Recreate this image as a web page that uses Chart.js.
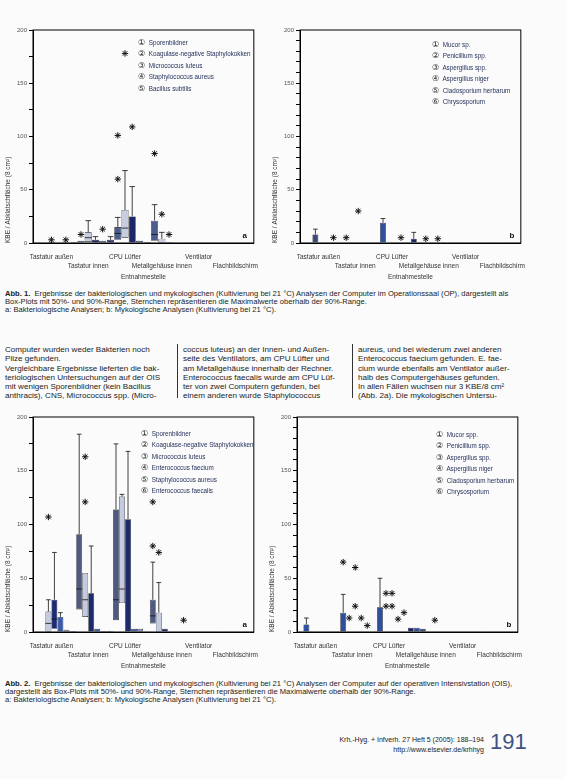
<!DOCTYPE html>
<html lang="de">
<head>
<meta charset="utf-8">
<title>Abb. 1 / Abb. 2</title>
<script src="https://cdn.jsdelivr.net/npm/chart.js@4.4.1/dist/chart.umd.min.js"></script>
<style>
body { margin:0; width:566px; height:779px; background:#fbfbfb; font-family:"Liberation Sans", Arial, sans-serif; color:#222; position:relative; overflow:hidden; }
canvas { position:absolute; }
.legende { position:absolute; font-size:6.3px; line-height:11.4px; color:#1e2a55; white-space:nowrap; }
.legende .nr { display:inline-block; width:9px; font-family:"DejaVu Sans", sans-serif; font-size:8px; color:#222; }
.caption { position:absolute; left:5px; width:556px; font-size:7.6px; line-height:8px; white-space:nowrap; color:#222; }
.spalte { position:absolute; top:345px; width:168px; font-size:8.1px; line-height:9.3px; white-space:nowrap; color:#222; }
.trenner { position:absolute; top:344px; height:54px; border-left:0.8px solid #333; }
.fuss { position:absolute; right:82px; top:735px; font-size:7px; line-height:10px; text-align:right; color:#222; }
.seite { position:absolute; left:490px; top:729px; font-size:22px; color:#3f5283; font-family:"Liberation Sans", sans-serif; }
</style>
</head>
<body>

<canvas id="abb1a" width="256" height="257" style="left:3px;top:24px"></canvas>
<canvas id="abb1b" width="256" height="257" style="left:270px;top:24px"></canvas>
<canvas id="abb2a" width="256" height="259" style="left:3px;top:411px"></canvas>
<canvas id="abb2b" width="256" height="259" style="left:267px;top:411px"></canvas>

<div class="legende" id="leg1a" style="left:138px;top:37px"></div>
<div class="legende" id="leg1b" style="left:432px;top:39px"></div>
<div class="legende" id="leg2a" style="left:141px;top:428px"></div>
<div class="legende" id="leg2b" style="left:436px;top:429px"></div>

<div class="caption" style="top:290px"><b>Abb. 1.</b>&nbsp; Ergebnisse der bakteriologischen und mykologischen (Kultivierung bei 21 °C) Analysen der Computer im Operationssaal (OP), dargestellt als<br>Box-Plots mit 50%- und 90%-Range, Sternchen repräsentieren die Maximalwerte oberhalb der 90%-Range.<br>a: Bakteriologische Analysen; b: Mykologische Analysen (Kultivierung bei 21 °C).</div>

<div class="spalte" style="left:5px">Computer wurden weder Bakterien noch<br>Pilze gefunden.<br>Vergleichbare Ergebnisse lieferten die bak-<br>teriologischen Untersuchungen auf der OIS<br>mit wenigen Sporenbildner (kein Bacillus<br>anthracis), CNS, Micrococcus spp. (Micro-</div>
<div class="trenner" style="left:177px"></div>
<div class="spalte" style="left:183px">coccus luteus) an der Innen- und Außen-<br>seite des Ventilators, am CPU Lüfter und<br>am Metallgehäuse innerhalb der Rechner.<br>Enterococcus faecalis wurde am CPU Lüf-<br>ter von zwei Computern gefunden, bei<br>einem anderen wurde Staphylococcus</div>
<div class="trenner" style="left:352px"></div>
<div class="spalte" style="left:358px">aureus, und bei wiederum zwei anderen<br>Enterococcus faecium gefunden. E. fae-<br>cium wurde ebenfalls am Ventilator außer-<br>halb des Computergehäuses gefunden.<br>In allen Fällen wuchsen nur 3 KBE/8 cm²<br>(Abb. 2a). Die mykologischen Untersu-</div>

<div class="caption" style="top:680px"><b>Abb. 2.</b>&nbsp; Ergebnisse der bakteriologischen und mykologischen (Kultivierung bei 21 °C) Analysen der Computer auf der operativen Intensivstation (OIS),<br>dargestellt als Box-Plots mit 50%- und 90%-Range, Sternchen repräsentieren die Maximalwerte oberhalb der 90%-Range.<br>a: Bakteriologische Analysen; b: Mykologische Analysen (Kultivierung bei 21 °C).</div>

<div class="fuss">Krh.-Hyg. + Infverh. 27 Heft 5 (2005): 188–194<br>http://www.elsevier.de/krhhyg</div>
<div class="seite">191</div>

<script>
var orte = ['Tastatur außen', 'Tastatur innen', 'CPU Lüfter', 'Metallgehäuse innen', 'Ventilator', 'Flachbildschirm'];
var yMax = 200;
var yBeschriftung = [0, 50, 100, 150, 200];
var nummern = ['①', '②', '③', '④', '⑤', '⑥'];
var _ = null;

//////////// Abb. 1a Bakterien OP ////////////
var arten1a = ['Sporenbildner', 'Koagulase-negative Staphylokokken', 'Micrococcus luteus', 'Staphylococcus aureus', 'Bacillus subtilis'];
var farben1a = ['#2b3a6e', '#4b5d8f', '#c6cde0', '#1b2766', '#3d5db0'];
var unten1a = [
    [0, 0, 0, 0, 0, 0],
    [0, 0, 3, 2, 0, 0],
    [0, 1, 5, 0, 0, 0],
    [0, 0, 0, 0, 0, 0],
    [0, 0, 0, 0, 0, 0]
];
var oben1a = [
    [0.8, 1, 3, 1, 0.8, 0.8],
    [0.8, 2, 15, 21, 0.8, 0.8],
    [1, 10, 31, 4, 0.8, 0.8],
    [0.8, 3, 25, 1, 0.8, 0.8],
    [0.8, 2, 2, 0.8, 0.8, 0.8]
];
var median1a = [
    [_, _, _, _, _, _],
    [_, _, 9, 8, _, _],
    [_, 5, 14, _, _, _],
    [_, _, _, _, _, _],
    [_, _, _, _, _, _]
];
var p90_1a = [
    [_, _, 6, _, _, _],
    [_, _, 24, 36, _, _],
    [_, 21, 68, 10, _, _],
    [_, 6, 53, _, _, _],
    [_, _, _, _, _, _]
];
var max1a = [
    [_, _, _, _, _, _],
    [_, [8], [101, 60], [84], _, _],
    [[3], _, [178], [27], _, _],
    [_, _, [109], [8], _, _],
    [[3], [13], _, _, _, _]
];

//////////// Abb. 1b Pilze OP ////////////
var arten1b = ['Mucor sp.', 'Penicillium spp.', 'Aspergillus spp.', 'Aspergillus niger', 'Cladosporium herbarum', 'Chrysosporium'];
var farben1b = ['#1b2766', '#2f4f9f', '#3b4a78', '#6f82b8', '#9aa7cc', '#26336b'];
var unten1b = [
    [0, 0, 0, 0, 0, 0],
    [0, 0, 0, 0, 0, 0],
    [0, 0, 0, 0, 0, 0],
    [0, 0, 0, 0, 0, 0],
    [0, 0, 0, 0, 0, 0],
    [0, 0, 0, 0, 0, 0]
];
var oben1b = [
    [0.8, 0.8, 0.8, 4, 0.8, 0.8],
    [0.8, 0.8, 19, 0.8, 0.8, 0.8],
    [8, 0.8, 0.8, 0.8, 0.8, 0.8],
    [0.8, 0.8, 0.8, 0.8, 0.8, 0.8],
    [0.8, 0.8, 0.8, 0.8, 0.8, 0.8],
    [0.8, 0.8, 0.8, 0.8, 0.8, 0.8]
];
var median1b = [
    [_, _, _, _, _, _], [_, _, _, _, _, _], [_, _, _, _, _, _],
    [_, _, _, _, _, _], [_, _, _, _, _, _], [_, _, _, _, _, _]
];
var p90_1b = [
    [_, _, _, 10, _, _],
    [_, _, 23, _, _, _],
    [13, _, _, _, _, _],
    [_, _, _, _, _, _],
    [_, _, _, _, _, _],
    [_, _, _, _, _, _]
];
var max1b = [
    [_, _, _, _, _, _],
    [_, [5], _, _, _, _],
    [_, _, _, [4], _, _],
    [_, [30], _, _, _, _],
    [_, _, [5], [4], _, _],
    [[5], _, _, _, _, _]
];

//////////// Abb. 2a Bakterien OIS ////////////
var arten2a = ['Sporenbildner', 'Koagulase-negative Staphylokokken', 'Micrococcus luteus', 'Enterococcus faecium', 'Staphylococcus aureus', 'Enterococcus faecalis'];
var farben2a = ['#1b2766', '#4e5a82', '#c4cbe0', '#1e2a70', '#3a5aa8', '#7f91c2'];
var unten2a = [
    [0, 0, 0, 0, 0, 0],
    [0, 21, 11, 8, 0, 0],
    [0, 14, 27, 0, 0, 0],
    [3, 0, 0, 0, 0, 0],
    [0, 0, 0, 0, 0, 0],
    [0, 0, 0, 0, 0, 0]
];
var oben2a = [
    [0.8, 1, 1, 0.8, 0.8, 0.8],
    [0.8, 91, 114, 30, 0.8, 0.8],
    [19, 55, 126, 18, 0.8, 0.8],
    [30, 36, 105, 3, 0.8, 0.8],
    [14, 3, 3, 0.8, 0.8, 0.8],
    [2, 1, 3, 0.8, 0.8, 0.8]
];
var median2a = [
    [_, _, _, _, _, _],
    [_, 40, 30, 15, _, _],
    [8, 30, 40, _, _, _],
    [12, _, _, _, _, _],
    [_, _, _, _, _, _],
    [_, _, _, _, _, _]
];
var p90_2a = [
    [_, _, _, _, _, _],
    [_, 184, 175, 65, _, _],
    [30, _, 128, 46, _, _],
    [74, 80, 168, _, _, _],
    [18, _, _, _, _, _],
    [_, _, _, _, _, _]
];
var max2a = [
    [_, _, _, _, [11], _],
    [_, _, _, [80, 121], _, _],
    [[107], [163, 121], _, [74], _, _],
    [_, _, _, _, _, _],
    [_, _, _, _, _, _],
    [_, _, _, _, _, _]
];

//////////// Abb. 2b Pilze OIS ////////////
var arten2b = ['Mucor spp.', 'Penicillium spp.', 'Aspergillus spp.', 'Aspergillus niger', 'Cladosporium herbarum', 'Chrysosporium'];
var farben2b = ['#1b2766', '#2f4f9f', '#3b4a78', '#6f82b8', '#9aa7cc', '#26336b'];
var unten2b = [
    [0, 0, 0, 0, 0, 0],
    [0, 0, 0, 0, 0, 0],
    [0, 0, 0, 0, 0, 0],
    [0, 0, 0, 0, 0, 0],
    [0, 0, 0, 0, 0, 0],
    [0, 0, 0, 0, 0, 0]
];
var oben2b = [
    [0.8, 0.8, 0.8, 4, 0.8, 0.8],
    [7, 18, 23, 4, 0.8, 0.8],
    [0.8, 0.8, 0.8, 3, 0.8, 0.8],
    [0.8, 0.8, 0.8, 0.8, 0.8, 0.8],
    [0.8, 0.8, 0.8, 0.8, 0.8, 0.8],
    [0.8, 0.8, 0.8, 0.8, 0.8, 0.8]
];
var median2b = [
    [_, _, _, _, _, _], [_, _, _, _, _, _], [_, _, _, _, _, _],
    [_, _, _, _, _, _], [_, _, _, _, _, _], [_, _, _, _, _, _]
];
var p90_2b = [
    [_, _, _, _, _, _],
    [13, 35, 50, _, _, _],
    [_, _, _, _, _, _],
    [_, _, _, _, _, _],
    [_, _, _, _, _, _],
    [_, _, _, _, _, _]
];
var max2b = [
    [_, _, _, _, _, _],
    [_, [65], _, _, _, _],
    [_, [13], [36, 24], _, _, _],
    [_, [60, 24], [36, 24], _, _, _],
    [_, [13], [12], [11], _, _],
    [_, [6], [18], _, _, _]
];

// asterisk for max values
function stern(ctx, x, y, r) {
    ctx.beginPath();
    for (var k = 0; k < 4; k++) {
        var a = k * Math.PI / 4;
        ctx.moveTo(x - r * Math.cos(a), y - r * Math.sin(a));
        ctx.lineTo(x + r * Math.cos(a), y + r * Math.sin(a));
    }
    ctx.stroke();
}

// whiskers, medians, maxima, frame, letter
var boxPlugin = {
    id: 'boxplot',
    afterDatasetsDraw: function (chart, args, opts) {
        var ctx = chart.ctx;
        var ys = chart.scales.y;
        ctx.save();
        ctx.strokeStyle = '#111';
        ctx.lineWidth = 0.8;
        chart.data.datasets.forEach(function (ds, d) {
            var meta = chart.getDatasetMeta(d);
            meta.data.forEach(function (bar, i) {
                var x = bar.x, w = bar.width;
                var top = ys.getPixelForValue(opts.oben[d][i]);
                var p = opts.p90[d][i];
                if (p != null) {
                    var py = ys.getPixelForValue(p);
                    ctx.lineWidth = 0.8;
                    ctx.beginPath();
                    ctx.moveTo(x, top);
                    ctx.lineTo(x, py);
                    ctx.moveTo(x - w * 0.4, py);
                    ctx.lineTo(x + w * 0.4, py);
                    ctx.stroke();
                }
                var m = opts.median[d][i];
                if (m != null) {
                    var my = ys.getPixelForValue(m);
                    ctx.lineWidth = 0.8;
                    ctx.beginPath();
                    ctx.moveTo(x - w / 2, my);
                    ctx.lineTo(x + w / 2, my);
                    ctx.stroke();
                }
                var mx = opts.maxima[d][i];
                if (mx) {
                    ctx.lineWidth = 1;
                    mx.forEach(function (v) {
                        stern(ctx, x, ys.getPixelForValue(v), 3.2);
                    });
                }
            });
        });
        var a = chart.chartArea;
        ctx.lineWidth = 1;
        ctx.strokeStyle = '#000';
        ctx.strokeRect(a.left, a.top, a.right - a.left, a.bottom - a.top);
        ctx.fillStyle = '#111';
        ctx.font = 'bold 8px "Liberation Sans"';
        ctx.textAlign = 'center';
        ctx.fillText(opts.buchstabe, a.right - 9, a.bottom - 5);
        ctx.restore();
    }
};

function legende(id, arten) {
    var html = '';
    for (var i = 0; i < arten.length; i++) {
        html += '<div><span class="nr">' + nummern[i] + '</span> ' + arten[i] + '</div>';
    }
    document.getElementById(id).innerHTML = html;
}

function boxChart(id, arten, farben, unten, oben, median, p90, maxima, buchstabe, schritt) {
    var datasets = [];
    for (var s = 0; s < arten.length; s++) {
        var werte = [];
        for (var i = 0; i < orte.length; i++) {
            werte.push([unten[s][i], oben[s][i]]);
        }
        datasets.push({
            label: arten[s],
            data: werte,
            backgroundColor: farben[s],
            borderColor: '#111',
            borderWidth: 0.6,
            borderSkipped: false,
            categoryPercentage: 0.98,
            barPercentage: 0.98
        });
    }
    return new Chart(document.getElementById(id), {
        type: 'bar',
        data: { labels: orte, datasets: datasets },
        options: {
            responsive: false,
            animation: false,
            devicePixelRatio: 1,
            layout: { padding: { top: 6, right: 0, left: 0, bottom: 0 } },
            plugins: {
                legend: { display: false },
                tooltip: { enabled: false },
                boxplot: { oben: oben, median: median, p90: p90, maxima: maxima, buchstabe: buchstabe }
            },
            scales: {
                x: {
                    grid: { display: false },
                    border: { color: '#000', width: 1 },
                    ticks: {
                        autoSkip: false, maxRotation: 0, minRotation: 0, padding: 1,
                        color: '#333', font: { size: 6.5, family: 'Liberation Sans', lineHeight: 1.45 },
                        callback: function (v, i) { return i % 2 == 0 ? [orte[i], ''] : ['', orte[i]]; }
                    },
                    title: { display: true, text: 'Entnahmestelle', color: '#333', padding: { top: 1, bottom: 0 },
                        font: { size: 6.5, family: 'Liberation Sans' } },
                    afterFit: function (sc) { sc.height = 38; }
                },
                y: {
                    min: 0, max: yMax,
                    grid: { drawOnChartArea: false, tickLength: 4, color: '#000' },
                    border: { color: '#000', width: 1 },
                    ticks: {
                        stepSize: schritt, padding: 2, color: '#555',
                        font: { size: 6, family: 'Liberation Sans' },
                        callback: function (v) { return yBeschriftung.indexOf(v) >= 0 ? v : ''; }
                    },
                    title: { display: true, text: 'KBE / Abklatschfläche (8 cm²)', align: 'start', color: '#333',
                        padding: 1, font: { size: 6.5, family: 'Liberation Sans' } },
                    afterFit: function (sc) { sc.width = 30; }
                }
            }
        },
        plugins: [boxPlugin]
    });
}

boxChart('abb1a', arten1a, farben1a, unten1a, oben1a, median1a, p90_1a, max1a, 'a', 25);
boxChart('abb1b', arten1b, farben1b, unten1b, oben1b, median1b, p90_1b, max1b, 'b', 10);
boxChart('abb2a', arten2a, farben2a, unten2a, oben2a, median2a, p90_2a, max2a, 'a', 25);
boxChart('abb2b', arten2b, farben2b, unten2b, oben2b, median2b, p90_2b, max2b, 'b', 10);

legende('leg1a', arten1a);
legende('leg1b', arten1b);
legende('leg2a', arten2a);
legende('leg2b', arten2b);
</script>
</body>
</html>
